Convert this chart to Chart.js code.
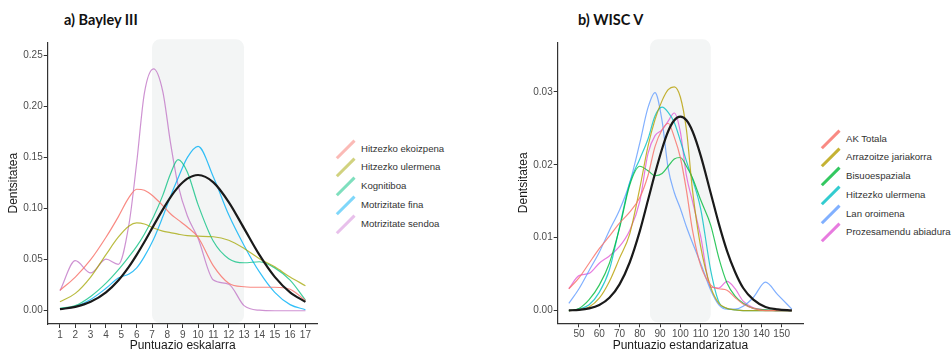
<!DOCTYPE html>
<html>
<head>
<meta charset="utf-8">
<script src="https://cdn.jsdelivr.net/npm/chart.js@4.4.0/dist/chart.umd.min.js"></script>
<style>
  body { margin: 0; width: 952px; height: 349px; overflow: hidden; background: #fff; position: relative;
         font-family: "Liberation Sans", Arial, sans-serif; }
  canvas { position: absolute; top: 0; }
  .title { position: absolute; top: 10px; line-height: 20px; font-family: Lato, sans-serif;
           font-weight: bold; font-size: 14.5px; color: #111; }
  .legend { position: absolute; font-size: 9.6px; color: #333; }
  .legend div { position: relative; height: 18.8px; line-height: 18.8px; padding-left: 28px; white-space: nowrap; }
  .legend div span { position: absolute; left: 0; top: 8px; width: 25px; height: 2.5px; transform: rotate(-45deg); }
</style>
</head>
<body>
<div class="title" style="left:64px">a) Bayley III</div>
<div class="title" style="left:578px">b) WISC V</div>
<canvas id="chart-a" width="330" height="356" style="left:0"></canvas>
<canvas id="chart-b" width="300" height="356" style="left:510px"></canvas>
<div class="legend" id="legend-a" style="left:333px; top:139.6px"></div>
<div class="legend" id="legend-b" style="left:818px; top:129.5px"></div>
<script>
// a) Bayley III
const xA = [1, 2, 3, 4, 4.8, 5.5, 6, 6.5, 7.1, 7.7, 8.2, 8.7, 9.3, 10, 11, 12, 13, 14, 15, 16, 17];
const normalA = [0.0015, 0.0038, 0.0087, 0.018, 0.0296, 0.0432, 0.0547, 0.0673, 0.0834, 0.0991, 0.1111, 0.1211, 0.1294, 0.133, 0.1258, 0.1065, 0.0807, 0.0547, 0.0332, 0.018, 0.0087];
const ekoizpenaA = [0.02, 0.033, 0.05, 0.072, 0.092, 0.111, 0.119, 0.118, 0.112, 0.103, 0.095, 0.089, 0.082, 0.072, 0.044, 0.027, 0.0235, 0.023, 0.023, 0.021, 0.01];
const ulermenaA = [0.0088, 0.017, 0.033, 0.055, 0.072, 0.083, 0.086, 0.085, 0.081, 0.078, 0.0765, 0.075, 0.0735, 0.073, 0.0725, 0.069, 0.061, 0.051, 0.043, 0.033, 0.0245];
const kognitiboaA = [0.0023, 0.005, 0.014, 0.027, 0.04, 0.053, 0.063, 0.075, 0.092, 0.113, 0.134, 0.148, 0.136, 0.104, 0.068, 0.051, 0.047, 0.048, 0.042, 0.03, 0.0105];
const finaA = [0.0015, 0.004, 0.011, 0.022, 0.032, 0.036, 0.042, 0.053, 0.07, 0.092, 0.112, 0.13, 0.15, 0.161, 0.131, 0.094, 0.064, 0.038, 0.018, 0.006, 0.001];
const sendoaA = [0.0195, 0.049, 0.037, 0.0505, 0.0455, 0.085, 0.145, 0.213, 0.237, 0.215, 0.165, 0.123, 0.093, 0.071, 0.03, 0.026, 0.005, 0.0005, 0, 0, 0];
const labelsA = ["Hitzezko ekoizpena", "Hitzezko ulermena", "Kognitiboa", "Motrizitate fina", "Motrizitate sendoa"];
const xTicksA = [1, 2, 3, 4, 5, 6, 7, 8, 9, 10, 11, 12, 13, 14, 15, 16, 17];
const yTicksA = [0, 0.05, 0.1, 0.15, 0.2, 0.25];
const shadeA = [7, 13];

// b) WISC V
const xB = [45, 50, 55, 60, 65, 70, 75, 80, 84, 87.5, 91, 94, 97, 100, 103, 106, 110, 115, 119, 123, 127, 131, 136, 142, 148, 155];
const normalB = [0.00003, 0.0001, 0.0003, 0.00076, 0.00175, 0.0036, 0.0066, 0.0109, 0.0151, 0.0188, 0.0222, 0.0246, 0.0261, 0.0266, 0.0261, 0.0246, 0.0213, 0.0161, 0.0119, 0.0082, 0.0053, 0.0031, 0.0015, 0.0005, 0.00016, 0.00003];
const akTotalaB = [0.003, 0.0045, 0.0065, 0.0085, 0.0102, 0.012, 0.0135, 0.0155, 0.0185, 0.0225, 0.0248, 0.0257, 0.0238, 0.021, 0.0165, 0.011, 0.0062, 0.0035, 0.003, 0.0028, 0.0018, 0.0009, 0.0003, 0, 0, 0];
const arrazoitzeB = [0, 0.0001, 0.0005, 0.0017, 0.004, 0.0072, 0.0105, 0.0168, 0.0225, 0.0262, 0.0288, 0.0303, 0.0307, 0.0293, 0.0248, 0.0165, 0.0088, 0.0032, 0.001, 0.0003, 0.0001, 0, 0, 0, 0, 0];
const bisuoB = [0, 0.0003, 0.0015, 0.0035, 0.0065, 0.0113, 0.0172, 0.0198, 0.0192, 0.0185, 0.0188, 0.0198, 0.0208, 0.021, 0.0198, 0.0182, 0.0152, 0.0117, 0.0072, 0.0038, 0.002, 0.001, 0.0003, 0.0001, 0, 0];
const ulermenaB = [0, 0.0002, 0.0008, 0.0025, 0.0056, 0.0115, 0.0175, 0.0208, 0.0235, 0.0267, 0.0279, 0.0272, 0.0258, 0.0233, 0.0205, 0.018, 0.014, 0.0055, 0.0012, 0.0003, 0.0001, 0, 0, 0, 0, 0];
const oroimenaB = [0.001, 0.003, 0.0055, 0.008, 0.011, 0.0138, 0.0175, 0.023, 0.0278, 0.0299, 0.026, 0.0195, 0.0162, 0.014, 0.0115, 0.0093, 0.0065, 0.0028, 0.0008, 0.0002, 0.0002, 0.0006, 0.0018, 0.0039, 0.0022, 0.0002];
const abiaduraB = [0.003, 0.0048, 0.0051, 0.0065, 0.0075, 0.0088, 0.011, 0.015, 0.0215, 0.024, 0.0248, 0.026, 0.0271, 0.0245, 0.0185, 0.015, 0.0102, 0.0032, 0.0031, 0.004, 0.003, 0.0013, 0.0004, 0.0001, 0, 0];
const labelsB = ["AK Totala", "Arrazoitze jariakorra", "Bisuoespaziala", "Hitzezko ulermena", "Lan oroimena", "Prozesamendu abiadura"];
const xTicksB = [50, 60, 70, 80, 90, 100, 110, 120, 130, 140, 150];
const yTicksB = [0, 0.01, 0.02, 0.03];
const shadeB = [85, 115];

const colorsA = ["rgba(248,118,109,0.85)", "rgba(163,165,0,0.75)", "rgba(0,191,125,0.75)", "rgba(0,176,246,0.8)", "rgba(190,110,195,0.75)"];
const legendColorsA = ["rgba(248,118,109,0.5)", "rgba(163,165,0,0.5)", "rgba(0,191,125,0.5)", "rgba(0,176,246,0.5)", "rgba(210,130,215,0.5)"];
const colorsB = ["rgba(248,118,109,0.85)", "rgba(183,159,0,0.8)", "rgba(0,186,56,0.8)", "rgba(0,191,196,0.8)", "rgba(97,156,255,0.8)", "rgba(225,90,215,0.8)"];

const shadePlugin = {
  id: "shade",
  beforeDatasetsDraw(chart, args, opts) {
    const { ctx, scales: { x }, chartArea } = chart;
    const left = x.getPixelForValue(opts.from);
    const right = x.getPixelForValue(opts.to);
    ctx.save();
    ctx.fillStyle = "#f3f5f5";
    ctx.beginPath();
    ctx.roundRect(left, chartArea.top - 3, right - left, chartArea.bottom - chartArea.top + 2, 8);
    ctx.fill();
    ctx.restore();
  },
};

function makePanel(id, xs, normal, series, colors, opts) {
  const toPoints = (ys) => xs.map((x, i) => ({ x: x, y: ys[i] }));
  const datasets = [
    { data: toPoints(normal), borderColor: "#1a1a1a", borderWidth: 2.2 },
  ].concat(series.map((s, i) => ({ data: toPoints(s), borderColor: colors[i], borderWidth: 1.2 })));

  const axisBase = {
    type: "linear",
    border: { display: true, color: "#333", width: 1.2 },
    grid: { drawOnChartArea: false, drawTicks: true, tickLength: 4, color: "#333" },
  };

  return new Chart(document.getElementById(id), {
    type: "line",
    data: { datasets: datasets },
    plugins: [shadePlugin],
    options: {
      responsive: false,
      animation: false,
      layout: { padding: { top: 42.3, right: opts.padRight, left: 0, bottom: 0 } },
      elements: { point: { radius: 0 }, line: { cubicInterpolationMode: "monotone" } },
      scales: {
        x: {
          ...axisBase,
          min: opts.xMin,
          max: opts.xMax,
          afterBuildTicks: (scale) => { scale.ticks = opts.xTicks.map((v) => ({ value: v })); },
          afterFit: (scale) => { scale.height = opts.xHeight; },
          ticks: { color: "#4d4d4d", font: { size: 10, family: "Liberation Sans" }, padding: 1, maxRotation: 0, autoSkip: false },
          title: { display: true, text: opts.xTitle, color: "#1a1a1a", font: { size: 12, family: "Liberation Sans" }, padding: { top: 0, bottom: 3 } },
        },
        y: {
          ...axisBase,
          min: opts.yMin,
          max: opts.yMax,
          afterBuildTicks: (scale) => { scale.ticks = opts.yTicks.map((v) => ({ value: v })); },
          afterFit: (scale) => { scale.width = 47.7; },
          ticks: { color: "#4d4d4d", font: { size: 10, family: "Liberation Sans" }, padding: 1, callback: (v) => v.toFixed(2) },
          title: { display: true, text: "Dentsitatea", color: "#1a1a1a", font: { size: 12, family: "Liberation Sans" }, padding: { top: 6.5, bottom: 0 } },
        },
      },
      plugins: {
        legend: { display: false },
        tooltip: { enabled: false },
        shade: { from: opts.shade[0], to: opts.shade[1] },
      },
    },
  });
}

function fillLegend(id, labels, colors) {
  const box = document.getElementById(id);
  labels.forEach((label, i) => {
    const item = document.createElement("div");
    const key = document.createElement("span");
    key.style.background = colors[i];
    item.appendChild(key);
    item.appendChild(document.createTextNode(label));
    box.appendChild(item);
  });
}

makePanel("chart-a", xA, normalA, [ekoizpenaA, ulermenaA, kognitiboaA, finaA, sendoaA], colorsA, {
  xMin: 0.2, xMax: 17.8, yMin: -0.013, yMax: 0.263, xTicks: xTicksA, yTicks: yTicksA,
  xHeight: 32, padRight: 12.3, shade: shadeA, xTitle: "Puntuazio eskalarra",
});
makePanel("chart-b", xB, normalB, [akTotalaB, arrazoitzeB, bisuoB, ulermenaB, oroimenaB, abiaduraB], colorsB, {
  xMin: 39.5, xMax: 160.5, yMin: -0.00174, yMax: 0.0368, xTicks: xTicksB, yTicks: yTicksB,
  xHeight: 32.7, padRight: 7, shade: shadeB, xTitle: "Puntuazio estandarizatua",
});

fillLegend("legend-a", labelsA, legendColorsA);
fillLegend("legend-b", labelsB, colorsB);
</script>
</body>
</html>
